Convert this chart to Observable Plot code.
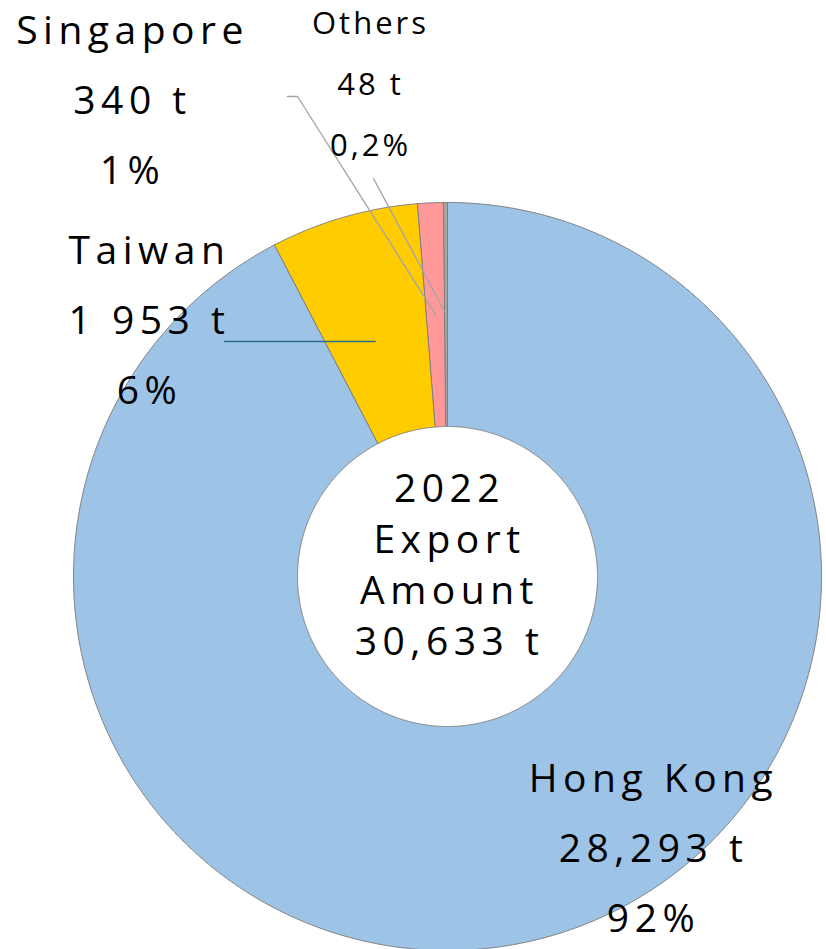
<!DOCTYPE html>
<html><head><meta charset="utf-8">
<script src="https://cdn.jsdelivr.net/npm/d3@7"></script>
<script src="https://cdn.jsdelivr.net/npm/@observablehq/plot@0.6"></script>
<style>html,body{margin:0;padding:0;background:#fff} svg{display:block}</style>
</head><body><div id="chart"></div>
<script>
// ---- data ----
const regions = ["Hong Kong", "Taiwan", "Singapore", "Others"];
const tonnes = [28293, 1953, 340, 48];
const tonneLabels = ["28,293 t", "1 953 t", "340 t", "48 t"];
const shareLabels = ["92%", "6%", "1%", "0,2%"];
const centerLines = ["2022", "Export", "Amount", "30,633 t"];

// ---- styles / layout ----
const colors = ["#9dc3e6", "#ffcc00", "#ff9999", "#a5a5a5"];
const W = 826, H = 949, CX = 447, CY = 576, R_OUT = 374, R_IN = 150;
const FS = 39, FS_SMALL = 31;
// last-line baseline offsets (relative to donut centre) for each region label: [dx, dy, fontSize, lineStep]
const labelOffsets = [[206, 355, FS, 70], [-298, -173, FS, 70], [-315, -393, FS, 70], [-77, -421, FS_SMALL, 61]];
const centerOffset = [2, 78];
// leader lines: start points relative to centre (end at slice centroid)
const leaderStarts = {Taiwan: [[-223, -235]], Singapore: [[-160, -480], [-150, -480]], Others: [[-74, -398]]};
const leaderColors = {Taiwan: "#2c6d8c", Singapore: "#a6a6a6", Others: "#a6a6a6"};

// ---- geometry from data ----
const pie = d3.pie().sort(null).value(d => d)(tonnes);
const pt = (r, a) => [r * Math.sin(a), -r * Math.cos(a)];
const slices = pie.map((p, i) => {
  const span = p.endAngle - p.startAngle;
  const n = Math.max(2, Math.ceil(span / (Math.PI / 720)));
  const outer = d3.range(n + 1).map(k => pt(R_OUT, p.startAngle + span * k / n));
  const inner = d3.range(n + 1).map(k => pt(R_IN, p.endAngle - span * k / n));
  return {type: "Feature", properties: {name: regions[i], color: colors[i]},
    geometry: {type: "Polygon", coordinates: [[...outer, ...inner, outer[0]]]}};
});
const centroid = i => pt((R_IN + R_OUT) / 2, (pie[i].startAngle + pie[i].endAngle) / 2);

const leaders = [];
regions.forEach((name, i) => {
  if (!leaderStarts[name]) return;
  const pts = leaderStarts[name].slice();
  let end = centroid(i);
  if (name === "Taiwan") end = [end[0], pts[0][1]];
  pts.push(end);
  pts.forEach(([x, y]) => leaders.push({name, x, y, color: leaderColors[name]}));
});

const labels = regions.map((name, i) => ({
  name, x: labelOffsets[i][0], y: labelOffsets[i][1],
  text: `${name}\n${tonneLabels[i]}\n${shareLabels[i]}`
}));
const bigLabels = labels.slice(0, 3);
const smallLabels = labels.slice(3);

const chart = Plot.plot({
  width: W, height: H, margin: 0,
  projection: d3.geoIdentity().translate([CX, CY]),
  color: {type: "identity"},
  style: {background: "#fff", fontFamily: "'Open Sans', sans-serif"},
  marks: [
    Plot.geo(slices, {fill: d => d.properties.color, stroke: "#7f7f7f", strokeWidth: 1}),
    Plot.line(leaders, {x: "x", y: "y", z: "name", stroke: "color", strokeWidth: 1.4, curve: "linear"}),
    Plot.text(bigLabels, {x: "x", y: "y", text: "text", fontSize: FS, lineHeight: 70 / FS, lineAnchor: "bottom",
      textAnchor: "middle", fill: "#000", ariaDescription: "wide"}),
    Plot.text(smallLabels, {x: "x", y: "y", text: "text", fontSize: FS_SMALL, lineHeight: 61 / FS_SMALL, lineAnchor: "bottom",
      textAnchor: "middle", fill: "#000", ariaDescription: "small"}),
    Plot.text([{x: centerOffset[0], y: centerOffset[1], text: centerLines.join("\n")}],
      {x: "x", y: "y", text: "text", fontSize: FS, lineHeight: 51 / FS, lineAnchor: "bottom",
      textAnchor: "middle", fill: "#000", ariaDescription: "wide"})
  ]
});
d3.select(chart).selectAll('[aria-description="wide"] text').style("letter-spacing", "5.5px");
d3.select(chart).selectAll('[aria-description="small"] text').style("letter-spacing", "3px");
document.getElementById("chart").appendChild(chart);
</script>
</body></html>
